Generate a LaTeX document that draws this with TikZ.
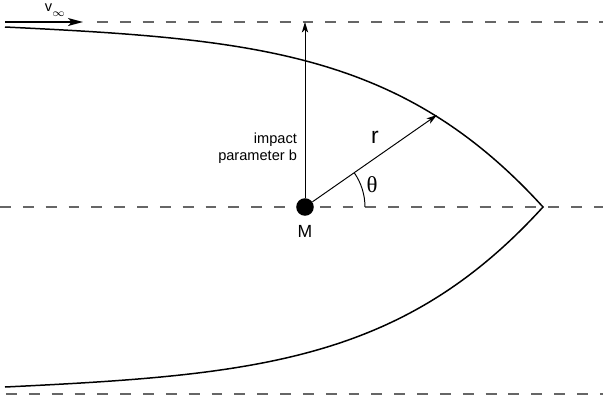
\documentclass[tikz,border=0pt]{standalone}
\usepackage{fontspec}
\setmainfont{Liberation Sans}
\newfontfamily\greekfont{Liberation Serif}
\usetikzlibrary{arrows.meta,positioning}

\begin{document}
\begin{tikzpicture}[
		x=0.02cm, y=0.02cm,
		axis/.style={draw=black!60, line width=0.6pt, dash pattern=on 6.2pt off 6.8pt},
		orbit/.style={line width=0.85pt},
		vec/.style={-{Stealth[length=6pt,width=3.6pt,inset=1.6pt]}, line width=0.55pt},
		lbl/.style={inner sep=1pt, align=right, font=\fontsize{8.3}{9.8}\selectfont}
		]
		
		\useasboundingbox (-305,-200) rectangle (298,207);
		
		\coordinate (tip) at (238,0);
		\coordinate (in) at (-300,180);
		\coordinate (out) at (-300,-180);
		\coordinate (btop) at (0,185);
		\coordinate (rend) at (132,92);
		
		\coordinate (vstart) at (-300,185);
		\coordinate (vend) at (-222,185);
		\coordinate (topL) at (-208,185);
		\coordinate (topR) at (298,185);
		\coordinate (axL) at (-305,0);
		\coordinate (axR) at (298,0);
		\coordinate (botL) at (-299,-187);
		\coordinate (botR) at (298,-187);
		
		\draw[axis] (topL)--(topR);
		\draw[axis] (axL)--(axR);
		\draw[axis] (botL)--(botR);
		
		\node[circle, fill=black, inner sep=0pt, minimum size=10pt] (M) at (0,0) {};
		\node[below=1.6pt of M, font=\fontsize{10}{12}\selectfont] (m) {M};
		
		\node[lbl, anchor=east] (b) at (-6,59)
		{impact\\parameter b};
		\node[font=\fontsize{13}{15}\selectfont] (r) at (70,70) {r};
		\node[font=\fontsize{13}{15}\greekfont] (t) at (67,22) {θ};
		\node[lbl] (v) at (-250,197) {v\raisebox{-3.2pt}{$\scriptstyle\infty$}};
		
		\draw[orbit] (in) .. controls (-50,168) and (97,155) .. (tip)
		.. controls (97,-155) and (-50,-168) .. (out);
		
		\draw[-{Stealth[length=8.5pt,width=4.5pt,inset=2pt]},line width=0.9pt] (vstart)--(vend);
		\draw[vec] (M)--(btop);
		\draw[vec] (M)--(rend);
		\draw[line width=0.55pt] (M.center) ++(1.2cm,0) arc[start angle=0,end angle=34.9,radius=1.2cm];
		
	\end{tikzpicture}
\end{document}
